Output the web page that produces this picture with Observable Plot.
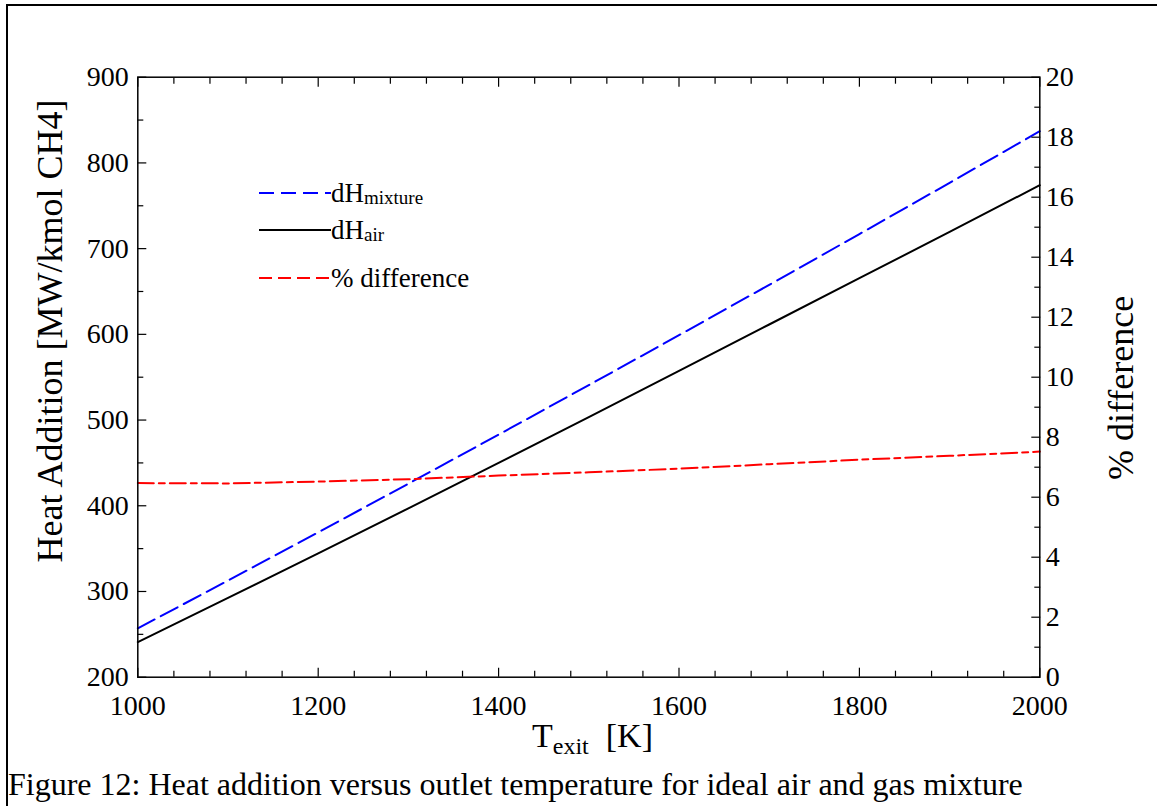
<!DOCTYPE html>
<html>
<head>
<meta charset="utf-8">
<script src="https://cdn.jsdelivr.net/npm/d3@7"></script>
<script src="https://cdn.jsdelivr.net/npm/@observablehq/plot@0.6"></script>
<style>
  html, body { margin: 0; padding: 0; background: #fff; }
</style>
</head>
<body>
<div id="chart"></div>
<script>
// Exit temperature [K]
const temps = [1000, 1100, 1200, 1300, 1400, 1500, 1600, 1700, 1800, 1900, 2000];
// Heat addition for the gas mixture [MW/kmol CH4]
const dhMixture = [257, 312.75, 369, 425.75, 483, 540.75, 599, 657.75, 717, 776.75, 837];
// Heat addition for ideal air [MW/kmol CH4]
const dhAir = [241, 292.5, 344.5, 397, 450, 503.5, 557.5, 611.5, 665.5, 719.5, 774];
// Percent difference between the two
const pctDiff = [6.47, 6.46, 6.52, 6.6, 6.72, 6.83, 6.95, 7.1, 7.25, 7.38, 7.52];

// Tick values
const xMajorTicks = [1000, 1200, 1400, 1600, 1800, 2000];
const xMinorTicks = d3.range(1040, 2000, 40).filter(t => (t - 1000) % 200 !== 0);
const leftMajorTicks = [200, 300, 400, 500, 600, 700, 800, 900];
const leftMinorTicks = [250, 350, 450, 550, 650, 750, 850];
const rightMajorTicks = [0, 2, 4, 6, 8, 10, 12, 14, 16, 18, 20];
const rightMinorTicks = [1, 3, 5, 7, 9, 11, 13, 15, 17, 19];

// The % difference axis on the right shares the left y scale:
// 0–20 % is mapped onto 200–900 MW/kmol.
const pctToY = p => 200 + p * 35;
const yToPct = y => (y - 200) / 35;

const serif = "'Liberation Serif', 'Times New Roman', Times, serif";

// inward ticks: the inset pulls each tick back inside the frame by its own length
const inTicks = (values, anchor, size, extra = {}) => {
  const inset = {bottom: "insetBottom", top: "insetTop", left: "insetLeft", right: "insetRight"}[anchor];
  const axis = anchor === "bottom" || anchor === "top" ? Plot.axisX : Plot.axisY;
  return axis(values, {anchor, tickSize: size, [inset]: size, strokeWidth: 1.2, label: null, fill: "none", ...extra});
};

const svg = Plot.plot({
  width: 1157,
  height: 806,
  marginLeft: 137.3,
  marginRight: 117.7,
  marginTop: 76.7,
  marginBottom: 129.3,
  x: {domain: [1000, 2000], axis: null},
  y: {domain: [200, 900], axis: null},
  style: {fontFamily: serif, fontSize: "28px", color: "black", background: "white"},
  marks: [
    // data lines
    Plot.line(temps, {x: d => d, y: dhAir, stroke: "black", strokeWidth: 2}),
    Plot.line(temps, {x: d => d, y: dhMixture, stroke: "#0000ff", strokeWidth: 2, strokeDasharray: "19,7"}),
    Plot.line(temps, {x: d => d, y: pctDiff.map(pctToY), stroke: "#ff0000", strokeWidth: 2, strokeDasharray: "16,5,6,5"}),

    // bottom axis with labels, top axis mirrored ticks
    inTicks(xMajorTicks, "bottom", 9, {fill: "black", tickPadding: 18, tickFormat: d => String(d)}),
    inTicks(xMinorTicks, "bottom", 6),
    inTicks(xMajorTicks, "top", 9),
    inTicks(xMinorTicks, "top", 6),

    // left axis: heat addition
    inTicks(leftMajorTicks, "left", 9, {fill: "black", tickPadding: 9, tickFormat: d => String(d)}),
    inTicks(leftMinorTicks, "left", 6),

    // right axis: % difference
    inTicks(rightMajorTicks.map(pctToY), "right", 9, {fill: "black", tickPadding: 6, tickFormat: y => String(Math.round(yToPct(y)))}),
    inTicks(rightMinorTicks.map(pctToY), "right", 6),

    Plot.frame({stroke: "black", strokeWidth: 1.5})
  ]
});

document.getElementById("chart").append(svg);

const g = d3.select(svg).append("g")
  .attr("font-family", serif)
  .attr("text-anchor", "start")
  .attr("fill", "black");

// page border
g.append("rect")
  .attr("x", 7).attr("y", 5)
  .attr("width", 1200).attr("height", 900)
  .attr("fill", "none").attr("stroke", "black").attr("stroke-width", 2);

// x axis title: T_exit  [K]
const xt = g.append("text")
  .attr("x", 532).attr("y", 747)
  .attr("font-size", 34);
xt.append("tspan").text("T");
xt.append("tspan").attr("font-size", 24).attr("dy", 7).text("exit");
xt.append("tspan").attr("dy", -7).text("\u00a0\u00a0[K]");

// left y axis title
g.append("text")
  .attr("transform", "translate(62,331) rotate(-90)")
  .attr("text-anchor", "middle")
  .attr("font-size", 36)
  .text("Heat Addition [MW/kmol CH4]");

// right y axis title
g.append("text")
  .attr("transform", "translate(1133,388) rotate(-90)")
  .attr("text-anchor", "middle")
  .attr("font-size", 36)
  .text("% difference");

// legend
const legendItems = [
  {main: "dH", sub: "mixture", color: "#0000ff", dash: "15,7", y: 193},
  {main: "dH", sub: "air", color: "black", dash: null, y: 230},
  {main: "% difference", sub: null, color: "#ff0000", dash: "13,6", y: 278}
];
for (const item of legendItems) {
  g.append("line")
    .attr("x1", 259).attr("x2", 331)
    .attr("y1", item.y).attr("y2", item.y)
    .attr("stroke", item.color).attr("stroke-width", 2)
    .attr("stroke-dasharray", item.dash);
  const t = g.append("text")
    .attr("x", 331).attr("y", item.y + 9)
    .attr("font-size", 27);
  t.append("tspan").text(item.main);
  if (item.sub) t.append("tspan").attr("font-size", 19).attr("dy", 2).text(item.sub);
}

// figure caption
g.append("text")
  .attr("x", 8).attr("y", 795)
  .attr("font-size", 32)
  .text("Figure 12: Heat addition versus outlet temperature for ideal air and gas mixture");
</script>
</body>
</html>
